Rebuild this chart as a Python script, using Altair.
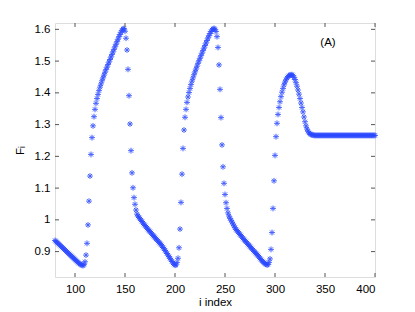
import altair as alt
import pandas as pd

idx = list(range(80, 401))

seg_a = [0.935, 0.932, 0.929, 0.926, 0.923, 0.920, 0.917, 0.914, 0.911, 0.908,
         0.905, 0.902, 0.899, 0.896, 0.893, 0.890, 0.887, 0.884, 0.881, 0.878,
         0.875, 0.872, 0.869, 0.866, 0.863, 0.861, 0.859, 0.857, 0.856]
seg_b = [0.859, 0.868, 0.889, 0.926, 0.984, 1.059, 1.138, 1.206, 1.259, 1.296,
         1.325, 1.348]
seg_c = [1.367, 1.382, 1.395, 1.407, 1.418, 1.428, 1.438, 1.447, 1.456, 1.465,
         1.473, 1.481, 1.489, 1.497, 1.505, 1.513, 1.521, 1.529, 1.537, 1.545,
         1.553, 1.561, 1.569, 1.577, 1.584, 1.591, 1.597, 1.601, 1.603]
seg_d = [1.594, 1.572, 1.535, 1.474, 1.391, 1.302, 1.218, 1.148, 1.101, 1.070,
         1.049, 1.031]
seg_e = [1.018, 1.012, 1.008, 1.003, 0.999, 0.995, 0.990, 0.986, 0.982, 0.978,
         0.974, 0.970, 0.966, 0.963, 0.959, 0.955, 0.951, 0.948, 0.944, 0.940,
         0.937, 0.933, 0.929, 0.926, 0.922, 0.918, 0.913, 0.909, 0.904, 0.899,
         0.894, 0.889, 0.884, 0.879, 0.874, 0.869, 0.864, 0.860, 0.857, 0.858,
         0.866]
seg_f = [0.879, 0.912, 0.971, 1.055, 1.144, 1.225, 1.283, 1.323, 1.348, 1.370]
seg_g = [1.387, 1.401, 1.414, 1.426, 1.437, 1.447, 1.457, 1.466, 1.475, 1.484,
         1.493, 1.501, 1.509, 1.517, 1.525, 1.533, 1.541, 1.549, 1.557, 1.565,
         1.573, 1.580, 1.587, 1.593, 1.598, 1.601, 1.603]
seg_h = [1.600, 1.593, 1.577, 1.543, 1.488, 1.411, 1.322, 1.236, 1.167, 1.115,
         1.080, 1.054, 1.036, 1.022, 1.012, 1.005]
seg_i = [0.999, 0.993, 0.987, 0.981, 0.975, 0.970, 0.966, 0.962, 0.958, 0.954,
         0.950, 0.946, 0.942, 0.938, 0.934, 0.931, 0.927, 0.923, 0.920, 0.916,
         0.912, 0.909, 0.905, 0.901, 0.898, 0.894, 0.891, 0.887, 0.883, 0.879,
         0.875, 0.871, 0.868, 0.865, 0.862, 0.860, 0.858, 0.859, 0.866]
seg_j = [0.877, 0.907, 0.960, 1.036, 1.123, 1.203]
seg_k = [1.262, 1.304, 1.332, 1.354, 1.372, 1.388, 1.402, 1.414, 1.425, 1.434,
         1.441, 1.447, 1.451, 1.454, 1.456, 1.457, 1.457, 1.454, 1.449, 1.442,
         1.432, 1.421, 1.409, 1.396, 1.382, 1.368, 1.354, 1.340, 1.324, 1.309,
         1.296, 1.286, 1.279, 1.274, 1.271, 1.269, 1.268, 1.267, 1.266]
seg_l = [1.266, 1.266, 1.266, 1.266, 1.266, 1.266, 1.266, 1.266, 1.266, 1.266,
         1.266, 1.266, 1.266, 1.266, 1.266, 1.266, 1.266, 1.266, 1.266, 1.266,
         1.266, 1.266, 1.266, 1.266, 1.266, 1.266, 1.266, 1.266, 1.266, 1.266,
         1.266, 1.266, 1.266, 1.266, 1.266, 1.266, 1.266, 1.266, 1.266, 1.266,
         1.266, 1.266, 1.266, 1.266, 1.266, 1.266, 1.266, 1.266, 1.266, 1.266,
         1.266, 1.266, 1.266, 1.266, 1.266, 1.266, 1.266, 1.266, 1.266, 1.266,
         1.266]

F = seg_a + seg_b + seg_c + seg_d + seg_e + seg_f + seg_g + seg_h + seg_i + seg_j + seg_k + seg_l
assert len(F) == len(idx), (len(F), len(idx))

x_ticks = [100, 150, 200, 250, 300, 350, 400]
y_ticks = [0.9, 1.0, 1.1, 1.2, 1.3, 1.4, 1.5, 1.6]
note_text = ["(A)"]
note_x = [353]
note_y = [1.557]

W, H = 320, 254
FONT = "Liberation Sans"
FRAME = "#555555"

df = pd.DataFrame({"i": idx, "F": F})
xt = pd.DataFrame({"t": x_ticks})
yt = pd.DataFrame({"t": y_ticks})
note = pd.DataFrame({"label": note_text, "x": note_x, "y": note_y})

xscale = alt.Scale(domain=[80, 400], nice=False, zero=False)
yscale = alt.Scale(domain=[0.82, 1.62], nice=False, zero=False)

xaxis = alt.Axis(
    values=x_ticks, title="i index", grid=False, tickSize=0,
    labelPadding=6, titlePadding=2, domain=False, labelOverlap=False,
    labelFont=FONT, titleFont=FONT, labelFontSize=11.5, titleFontSize=11.5,
    titleFontWeight="normal", labelColor="black", titleColor="black")
yaxis = alt.Axis(
    values=y_ticks, title="Fᵢ", grid=False, tickSize=0,
    labelPadding=5, titlePadding=9, domain=False, labelOverlap=False,
    labelExpr="format(datum.value, '.1~f')",
    labelFont=FONT, titleFont=FONT, labelFontSize=11.5, titleFontSize=11.5,
    titleFontWeight="normal", labelColor="black", titleColor="black")

asterisk = "M-1,0H1M0,-1V1M-0.7,-0.7L0.7,0.7M-0.7,0.7L0.7,-0.7"

points = alt.Chart(df).mark_point(
    shape=asterisk, filled=False, stroke="#2a48ff", strokeWidth=1,
    size=34, opacity=0.85
).encode(
    x=alt.X("i:Q", scale=xscale, axis=xaxis),
    y=alt.Y("F:Q", scale=yscale, axis=yaxis),
)

tick_len = 4
bx = alt.Chart(xt).mark_rule(color=FRAME, strokeWidth=1).encode(
    x=alt.X("t:Q", scale=xscale, axis=xaxis), y=alt.value(H), y2=alt.value(H - tick_len))
tx = alt.Chart(xt).mark_rule(color=FRAME, strokeWidth=1).encode(
    x=alt.X("t:Q", scale=xscale, axis=xaxis), y=alt.value(0), y2=alt.value(tick_len))
ly = alt.Chart(yt).mark_rule(color=FRAME, strokeWidth=1).encode(
    y=alt.Y("t:Q", scale=yscale, axis=yaxis), x=alt.value(0), x2=alt.value(tick_len))
ry = alt.Chart(yt).mark_rule(color=FRAME, strokeWidth=1).encode(
    y=alt.Y("t:Q", scale=yscale, axis=yaxis), x=alt.value(W), x2=alt.value(W - tick_len))

txt = alt.Chart(note).mark_text(font=FONT, fontSize=11.5, color="black",
                                align="center", baseline="middle").encode(
    x=alt.X("x:Q", scale=xscale, axis=xaxis), y=alt.Y("y:Q", scale=yscale, axis=yaxis),
    text="label:N")

chart = alt.layer(points, bx, tx, ly, ry, txt).properties(
    width=W, height=H,
    padding={"left": 47, "top": 15, "right": 32, "bottom": 34},
    autosize="none",
).configure_view(stroke=FRAME, strokeWidth=1).configure(background="white")

chart.save("out.html", embed_options={"renderer": "svg", "actions": False})
